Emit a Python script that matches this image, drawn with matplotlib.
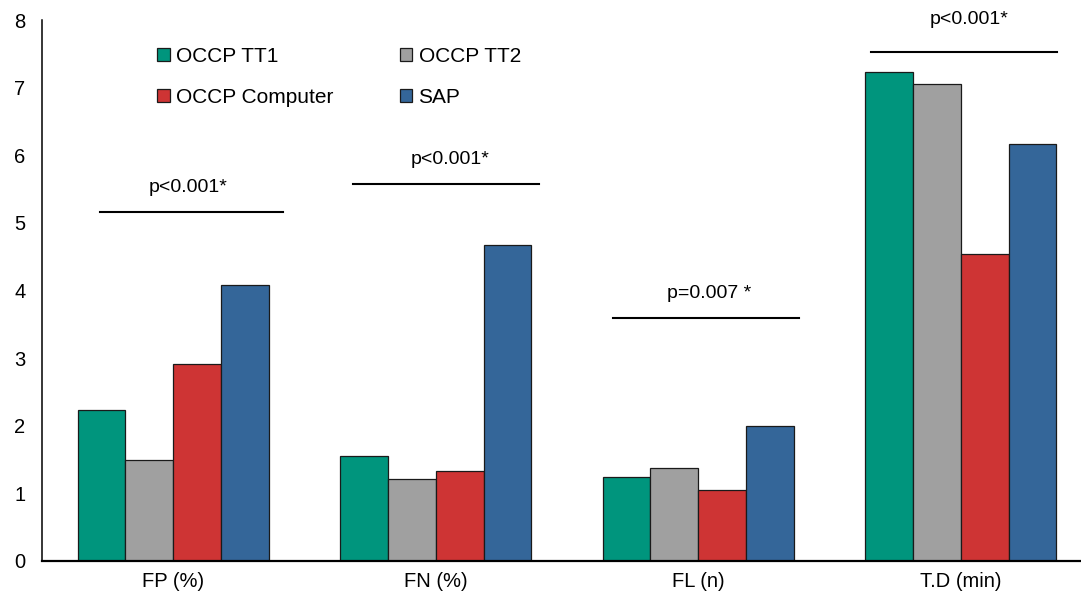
import numpy as np
import matplotlib.pyplot as plt

plt.rcParams['font.family'] = ['Liberation Sans', 'DejaVu Sans']

# Data
categories = ['FP (%)', 'FN (%)', 'FL (n)', 'T.D (min)']
series = ['OCCP TT1', 'OCCP TT2', 'OCCP Computer', 'SAP']
tt1 = [2.23, 1.56, 1.24, 7.23]
tt2 = [1.49, 1.21, 1.37, 7.05]
computer = [2.91, 1.33, 1.05, 4.54]
sap = [4.08, 4.67, 1.99, 6.16]
colors = ['#00957D', '#A0A0A0', '#CE3434', '#346699']

# significance annotations
p_labels = ['p<0.001*', 'p<0.001*', 'p=0.007 *', 'p<0.001*']
p_line_y = [5.16, 5.58, 3.59, 7.52]
p_line_start = [-0.28, 0.685, 1.676, 2.659]
p_line_end = [0.418, 1.394, 2.385, 3.368]
p_text_x = [0.057, 1.055, 2.04, 3.03]
p_text_y = [5.52, 5.93, 3.96, 8.0]

W, H = 1081, 598
fig = plt.figure(figsize=(W / 100, H / 100), dpi=100)
ax = fig.add_axes([42 / W, 37 / H, (1092 - 42) / W, (561 - 20) / H])

x = np.arange(len(categories))
width = 0.182
values = [tt1, tt2, computer, sap]
bars = []
for i, (name, vals) in enumerate(zip(series, values)):
    b = ax.bar(x + (i - 1.5) * width, vals, width, color=colors[i],
               edgecolor='#1a1a1a', linewidth=0.9, label=name, zorder=2)
    bars.append(b)

for j in range(len(categories)):
    ax.plot([p_line_start[j], p_line_end[j]], [p_line_y[j], p_line_y[j]],
            color='black', linewidth=1.5, clip_on=False)
    ax.text(p_text_x[j], p_text_y[j], p_labels[j], ha='center', va='center',
            fontsize=14, clip_on=False)

ax.set_xlim(-0.5, 3.5)
ax.set_ylim(0, 8)
ax.set_xticks(x)
ax.set_xticklabels(categories)
ax.set_yticks(range(0, 9))
ax.tick_params(axis='both', length=0, labelsize=14.5)
ax.tick_params(axis='y', pad=12)
ax.tick_params(axis='x', pad=8)

for s in ['top', 'right']:
    ax.spines[s].set_visible(False)
ax.spines['left'].set_linewidth(1.1)
ax.spines['bottom'].set_linewidth(1.6)

# legend filled column-wise, so reorder to get TT1 / TT2 on the first row
order = [0, 2, 1, 3]
ax.legend([bars[k] for k in order], [series[k] for k in order],
          ncol=2, frameon=False, fontsize=15, loc='upper left',
          bbox_to_anchor=(157 / W, 1 - 47 / H), bbox_transform=fig.transFigure,
          handlelength=0.6, handleheight=0.6, handletextpad=0.3,
          columnspacing=3.2, labelspacing=1.05, borderpad=0, borderaxespad=0)

plt.savefig('out.png', dpi=100)
